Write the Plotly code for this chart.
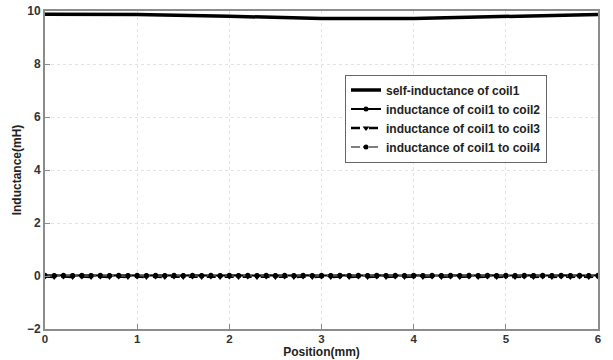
import plotly.graph_objects as go

pos_self = [0, 1, 2, 3, 4, 5, 6]
self_ind = [9.88, 9.87, 9.80, 9.72, 9.72, 9.78, 9.87]

pos_mut = [i / 10 for i in range(61)]
coil2 = [0.03, 0.02, 0.03, 0.02, 0.03, 0.02, 0.03, 0.02, 0.03, 0.02,
         0.03, 0.02, 0.03, 0.02, 0.03, 0.02, 0.03, 0.02, 0.03, 0.02,
         0.03, 0.02, 0.03, 0.02, 0.03, 0.02, 0.03, 0.02, 0.03, 0.02,
         0.03, 0.02, 0.03, 0.02, 0.03, 0.02, 0.03, 0.02, 0.03, 0.02,
         0.03, 0.02, 0.03, 0.02, 0.03, 0.02, 0.03, 0.02, 0.03, 0.02,
         0.03, 0.02, 0.03, 0.02, 0.03, 0.02, 0.03, 0.02, 0.03, 0.02, 0.03]
coil3 = [-0.02, -0.04, -0.02, -0.04, -0.02, -0.04, -0.02, -0.04, -0.02, -0.04,
         -0.02, -0.04, -0.02, -0.04, -0.02, -0.04, -0.02, -0.04, -0.02, -0.04,
         -0.02, -0.04, -0.02, -0.04, -0.02, -0.04, -0.02, -0.04, -0.02, -0.04,
         -0.02, -0.04, -0.02, -0.04, -0.02, -0.04, -0.02, -0.04, -0.02, -0.04,
         -0.02, -0.04, -0.02, -0.04, -0.02, -0.04, -0.02, -0.04, -0.02, -0.04,
         -0.02, -0.04, -0.02, -0.04, -0.02, -0.04, -0.02, -0.04, -0.02, -0.04, -0.02]
coil4 = [0.00, 0.01, 0.00, 0.01, 0.00, 0.01, 0.00, 0.01, 0.00, 0.01,
         0.00, 0.01, 0.00, 0.01, 0.00, 0.01, 0.00, 0.01, 0.00, 0.01,
         0.00, 0.01, 0.00, 0.01, 0.00, 0.01, 0.00, 0.01, 0.00, 0.01,
         0.00, 0.01, 0.00, 0.01, 0.00, 0.01, 0.00, 0.01, 0.00, 0.01,
         0.00, 0.01, 0.00, 0.01, 0.00, 0.01, 0.00, 0.01, 0.00, 0.01,
         0.00, 0.01, 0.00, 0.01, 0.00, 0.01, 0.00, 0.01, 0.00, 0.01, 0.00]

names = ["self-inductance of coil1", "inductance of coil1 to coil2",
         "inductance of coil1 to coil3", "inductance of coil1 to coil4"]

fig = go.Figure()
fig.add_trace(go.Scatter(x=pos_self, y=self_ind, mode="lines", name=names[0],
                         line=dict(color="black", width=3.5)))
fig.add_trace(go.Scatter(x=pos_mut, y=coil2, mode="lines+markers", name=names[1],
                         line=dict(color="black", width=2),
                         marker=dict(symbol="circle", size=5, color="black")))
fig.add_trace(go.Scatter(x=pos_mut, y=coil3, mode="lines+markers", name=names[2],
                         line=dict(color="black", width=2.5, dash="dash"),
                         marker=dict(symbol="triangle-down", size=6, color="black")))
fig.add_trace(go.Scatter(x=pos_mut, y=coil4, mode="lines+markers", name=names[3],
                         line=dict(color="#555555", width=1.5, dash="dashdot"),
                         marker=dict(symbol="circle", size=5, color="black")))

tickfont = dict(family="Arial, Liberation Sans", size=12, color="#333333", weight="bold")
axis_common = dict(showline=True, linecolor="#8c8c8c", linewidth=2, mirror=True,
                   ticks="inside", ticklen=5, tickcolor="#8c8c8c",
                   showgrid=True, gridcolor="#e3e3e3", griddash="dot", gridwidth=1,
                   zeroline=False, automargin=False)

fig.update_layout(
    width=613, height=360,
    margin=dict(l=45, r=15, t=11, b=31),
    paper_bgcolor="white", plot_bgcolor="white",
    font=dict(family="Arial, Liberation Sans", color="#222222"),
    xaxis=dict(range=[0, 6], dtick=1, ticklabelstandoff=-2,
               tickfont=dict(tickfont, size=11.5),
               title=dict(text="<b>Position(mm)</b>", font=dict(size=12), standoff=0),
               **axis_common),
    yaxis=dict(range=[-2, 10], dtick=2, tickfont=tickfont,
               title=dict(text="<b>Inductance(mH)</b>", font=dict(size=12), standoff=3),
               **axis_common),
    legend=dict(x=0.5425, y=0.80, xanchor="left", yanchor="top",
                bgcolor="white", bordercolor="#666666", borderwidth=1,
                font=dict(size=12, color="#222222"), tracegroupgap=0,
                itemwidth=30),
    showlegend=True,
)
for tr in fig.data:
    tr.name = "<b>" + tr.name + "</b>"

fig.write_html("out.html", config={"displayModeBar": False},
               post_script="document.body.style.margin='0';document.body.style.padding='0';")
